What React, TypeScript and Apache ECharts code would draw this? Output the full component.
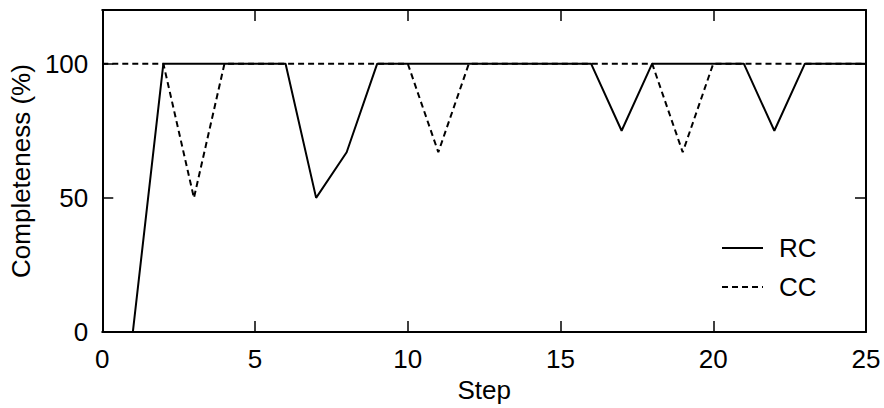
import React, { useEffect, useRef } from "react";
import * as echarts from "echarts";

const steps = [0, 1, 2, 3, 4, 5, 6, 7, 8, 9, 10, 11, 12, 13, 14, 15, 16, 17, 18, 19, 20, 21, 22, 23, 24, 25];
const rcValues = [0, 0, 100, 100, 100, 100, 100, 50, 67, 100, 100, 100, 100, 100, 100, 100, 100, 75, 100, 100, 100, 100, 75, 100, 100, 100];
const ccValues = [100, 100, 100, 50, 100, 100, 100, 100, 100, 100, 100, 67, 100, 100, 100, 100, 100, 100, 100, 67, 100, 100, 100, 100, 100, 100];
const xTicks = [0, 5, 10, 15, 20, 25];
const yTicks = [0, 50, 100];

const FONT = "'Liberation Sans', Arial, Helvetica, sans-serif";
const FS = 26;

export default function App() {
  const ref = useRef<HTMLDivElement>(null);
  useEffect(() => {
    if (!ref.current) return;
    const chart = echarts.init(ref.current, undefined, { renderer: "svg" });
    const rc = steps.map((s, i) => [s, rcValues[i]]);
    const cc = steps.map((s, i) => [s, ccValues[i]]);
    const axisLine = { show: true, onZero: false, lineStyle: { color: "#000", width: 2 } };
    const tickStyle = { show: true, inside: true, length: 11, lineStyle: { color: "#000", width: 1.5 } };
    chart.setOption({
      animation: false,
      backgroundColor: "#fff",
      textStyle: { fontFamily: FONT },
      grid: { left: 100, right: 18, top: 10, bottom: 70, containLabel: false },
      legend: {
        orient: "vertical",
        left: 716,
        top: 230,
        data: ["RC", "CC"],
        itemWidth: 41,
        itemHeight: 14,
        itemGap: 13,
        itemStyle: { opacity: 0 },
        textStyle: { fontFamily: FONT, fontSize: FS, color: "#000", lineHeight: 26, padding: [0, 0, 0, 11] },
      },
      xAxis: [
        {
          type: "value",
          min: 0,
          max: 25,
          interval: 5,
          name: "Step",
          nameLocation: "middle",
          nameGap: 40,
          nameTextStyle: { fontFamily: FONT, fontSize: FS, color: "#000" },
          axisLine,
          axisTick: tickStyle,
          axisLabel: {
            fontFamily: FONT,
            fontSize: FS,
            color: "#000",
            margin: 14,
            formatter: (v: number) => (xTicks.includes(v) ? String(v) : ""),
          },
          splitLine: { show: false },
        },
        {
          type: "value",
          position: "top",
          min: 0,
          max: 25,
          interval: 5,
          axisLine,
          axisTick: tickStyle,
          axisLabel: { show: false },
          splitLine: { show: false },
        },
      ],
      yAxis: [
        {
          type: "value",
          min: 0,
          max: 120,
          interval: 50,
          name: "Completeness (%)",
          nameLocation: "middle",
          nameGap: 62,
          nameTextStyle: { fontFamily: FONT, fontSize: FS, color: "#000" },
          axisLine,
          axisTick: tickStyle,
          axisLabel: {
            fontFamily: FONT,
            fontSize: FS,
            color: "#000",
            margin: 14,
            formatter: (v: number) => (yTicks.includes(v) ? String(v) : ""),
          },
          splitLine: { show: false },
        },
        {
          type: "value",
          position: "right",
          min: 0,
          max: 120,
          interval: 50,
          axisLine,
          axisTick: tickStyle,
          axisLabel: { show: false },
          splitLine: { show: false },
        },
      ],
      series: [
        {
          name: "CC",
          type: "line",
          data: cc,
          symbol: "none",
          lineStyle: { color: "#000", width: 2, type: [6, 4] },
          itemStyle: { color: "#000" },
          z: 2,
        },
        {
          name: "RC",
          type: "line",
          data: rc,
          symbol: "none",
          lineStyle: { color: "#000", width: 2, type: "solid" },
          itemStyle: { color: "#000" },
          z: 3,
        },
      ],
    });
    return () => chart.dispose();
  }, []);
  return <div ref={ref} style={{ width: 884, height: 408, position: "absolute", left: 0, top: 0 }} />;
}
